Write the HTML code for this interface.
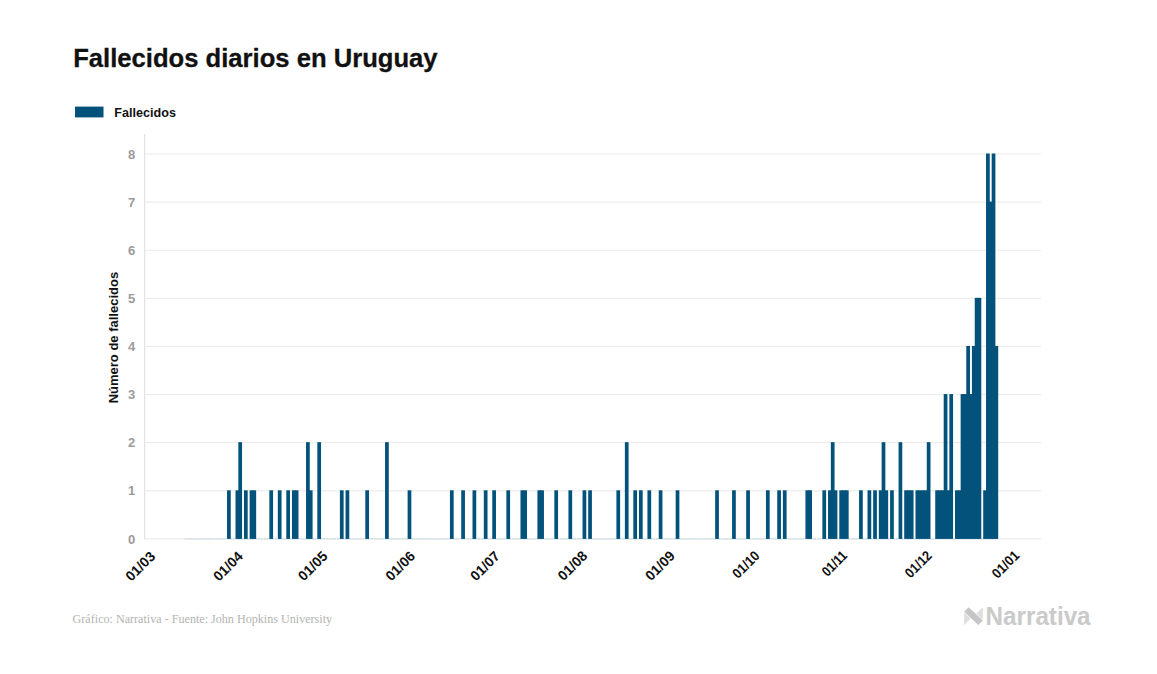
<!DOCTYPE html>
<html><head><meta charset="utf-8"><title>Fallecidos diarios en Uruguay</title>
<style>
html,body{margin:0;padding:0;background:#fff;}
body{width:1157px;height:674px;overflow:hidden;font-family:"Liberation Sans",sans-serif;}
svg{display:block;font-family:"Liberation Sans",sans-serif;}
</style></head><body>
<svg width="1157" height="674" viewBox="0 0 1157 674">
<rect width="1157" height="674" fill="#ffffff"/>
<line x1="145" x2="1041" y1="538.90" y2="538.90" stroke="#ededed" stroke-width="1.2"/>
<line x1="145" x2="1041" y1="490.79" y2="490.79" stroke="#ededed" stroke-width="1.2"/>
<line x1="145" x2="1041" y1="442.68" y2="442.68" stroke="#ededed" stroke-width="1.2"/>
<line x1="145" x2="1041" y1="394.57" y2="394.57" stroke="#ededed" stroke-width="1.2"/>
<line x1="145" x2="1041" y1="346.46" y2="346.46" stroke="#ededed" stroke-width="1.2"/>
<line x1="145" x2="1041" y1="298.35" y2="298.35" stroke="#ededed" stroke-width="1.2"/>
<line x1="145" x2="1041" y1="250.24" y2="250.24" stroke="#ededed" stroke-width="1.2"/>
<line x1="145" x2="1041" y1="202.13" y2="202.13" stroke="#ededed" stroke-width="1.2"/>
<line x1="145" x2="1041" y1="154.02" y2="154.02" stroke="#ededed" stroke-width="1.2"/>
<line x1="144.7" x2="144.7" y1="134" y2="539.50" stroke="#e4e4e4" stroke-width="1.3"/>
<line x1="184.72" x2="998.21" y1="538.90" y2="538.90" stroke="#bfd2dd" stroke-width="1" stroke-dasharray="2.05 0.7715"/>
<rect x="227.04" y="490.29" width="3.72" height="48.61" fill="#03527b"/>
<rect x="235.51" y="490.29" width="3.72" height="48.61" fill="#03527b"/>
<rect x="238.33" y="442.18" width="3.72" height="96.72" fill="#03527b"/>
<rect x="243.97" y="490.29" width="3.72" height="48.61" fill="#03527b"/>
<rect x="249.61" y="490.29" width="3.72" height="48.61" fill="#03527b"/>
<rect x="252.44" y="490.29" width="3.72" height="48.61" fill="#03527b"/>
<rect x="269.36" y="490.29" width="3.72" height="48.61" fill="#03527b"/>
<rect x="277.83" y="490.29" width="3.72" height="48.61" fill="#03527b"/>
<rect x="286.29" y="490.29" width="3.72" height="48.61" fill="#03527b"/>
<rect x="291.94" y="490.29" width="3.72" height="48.61" fill="#03527b"/>
<rect x="294.76" y="490.29" width="3.72" height="48.61" fill="#03527b"/>
<rect x="306.04" y="442.18" width="3.72" height="96.72" fill="#03527b"/>
<rect x="308.87" y="490.29" width="3.72" height="48.61" fill="#03527b"/>
<rect x="317.33" y="442.18" width="3.72" height="96.72" fill="#03527b"/>
<rect x="339.90" y="490.29" width="3.72" height="48.61" fill="#03527b"/>
<rect x="345.54" y="490.29" width="3.72" height="48.61" fill="#03527b"/>
<rect x="365.30" y="490.29" width="3.72" height="48.61" fill="#03527b"/>
<rect x="385.05" y="442.18" width="3.72" height="96.72" fill="#03527b"/>
<rect x="407.62" y="490.29" width="3.72" height="48.61" fill="#03527b"/>
<rect x="449.94" y="490.29" width="3.72" height="48.61" fill="#03527b"/>
<rect x="461.23" y="490.29" width="3.72" height="48.61" fill="#03527b"/>
<rect x="472.51" y="490.29" width="3.72" height="48.61" fill="#03527b"/>
<rect x="483.80" y="490.29" width="3.72" height="48.61" fill="#03527b"/>
<rect x="492.26" y="490.29" width="3.72" height="48.61" fill="#03527b"/>
<rect x="506.37" y="490.29" width="3.72" height="48.61" fill="#03527b"/>
<rect x="520.48" y="490.29" width="3.72" height="48.61" fill="#03527b"/>
<rect x="523.30" y="490.29" width="3.72" height="48.61" fill="#03527b"/>
<rect x="537.41" y="490.29" width="3.72" height="48.61" fill="#03527b"/>
<rect x="540.23" y="490.29" width="3.72" height="48.61" fill="#03527b"/>
<rect x="554.34" y="490.29" width="3.72" height="48.61" fill="#03527b"/>
<rect x="568.44" y="490.29" width="3.72" height="48.61" fill="#03527b"/>
<rect x="582.55" y="490.29" width="3.72" height="48.61" fill="#03527b"/>
<rect x="588.19" y="490.29" width="3.72" height="48.61" fill="#03527b"/>
<rect x="616.41" y="490.29" width="3.72" height="48.61" fill="#03527b"/>
<rect x="624.87" y="442.18" width="3.72" height="96.72" fill="#03527b"/>
<rect x="633.34" y="490.29" width="3.72" height="48.61" fill="#03527b"/>
<rect x="638.98" y="490.29" width="3.72" height="48.61" fill="#03527b"/>
<rect x="647.45" y="490.29" width="3.72" height="48.61" fill="#03527b"/>
<rect x="658.73" y="490.29" width="3.72" height="48.61" fill="#03527b"/>
<rect x="675.66" y="490.29" width="3.72" height="48.61" fill="#03527b"/>
<rect x="715.16" y="490.29" width="3.72" height="48.61" fill="#03527b"/>
<rect x="732.09" y="490.29" width="3.72" height="48.61" fill="#03527b"/>
<rect x="746.20" y="490.29" width="3.72" height="48.61" fill="#03527b"/>
<rect x="765.95" y="490.29" width="3.72" height="48.61" fill="#03527b"/>
<rect x="777.23" y="490.29" width="3.72" height="48.61" fill="#03527b"/>
<rect x="782.88" y="490.29" width="3.72" height="48.61" fill="#03527b"/>
<rect x="805.45" y="490.29" width="3.72" height="48.61" fill="#03527b"/>
<rect x="808.27" y="490.29" width="3.72" height="48.61" fill="#03527b"/>
<rect x="822.38" y="490.29" width="3.72" height="48.61" fill="#03527b"/>
<rect x="828.02" y="490.29" width="3.72" height="48.61" fill="#03527b"/>
<rect x="830.84" y="442.18" width="3.72" height="96.72" fill="#03527b"/>
<rect x="833.66" y="490.29" width="3.72" height="48.61" fill="#03527b"/>
<rect x="839.31" y="490.29" width="3.72" height="48.61" fill="#03527b"/>
<rect x="842.13" y="490.29" width="3.72" height="48.61" fill="#03527b"/>
<rect x="844.95" y="490.29" width="3.72" height="48.61" fill="#03527b"/>
<rect x="859.06" y="490.29" width="3.72" height="48.61" fill="#03527b"/>
<rect x="867.52" y="490.29" width="3.72" height="48.61" fill="#03527b"/>
<rect x="873.17" y="490.29" width="3.72" height="48.61" fill="#03527b"/>
<rect x="878.81" y="490.29" width="3.72" height="48.61" fill="#03527b"/>
<rect x="881.63" y="442.18" width="3.72" height="96.72" fill="#03527b"/>
<rect x="884.45" y="490.29" width="3.72" height="48.61" fill="#03527b"/>
<rect x="890.09" y="490.29" width="3.72" height="48.61" fill="#03527b"/>
<rect x="898.56" y="442.18" width="3.72" height="96.72" fill="#03527b"/>
<rect x="904.20" y="490.29" width="3.72" height="48.61" fill="#03527b"/>
<rect x="907.02" y="490.29" width="3.72" height="48.61" fill="#03527b"/>
<rect x="909.84" y="490.29" width="3.72" height="48.61" fill="#03527b"/>
<rect x="915.49" y="490.29" width="3.72" height="48.61" fill="#03527b"/>
<rect x="918.31" y="490.29" width="3.72" height="48.61" fill="#03527b"/>
<rect x="921.13" y="490.29" width="3.72" height="48.61" fill="#03527b"/>
<rect x="923.95" y="490.29" width="3.72" height="48.61" fill="#03527b"/>
<rect x="926.77" y="442.18" width="3.72" height="96.72" fill="#03527b"/>
<rect x="935.24" y="490.29" width="3.72" height="48.61" fill="#03527b"/>
<rect x="938.06" y="490.29" width="3.72" height="48.61" fill="#03527b"/>
<rect x="940.88" y="490.29" width="3.72" height="48.61" fill="#03527b"/>
<rect x="943.70" y="394.07" width="3.72" height="144.83" fill="#03527b"/>
<rect x="946.52" y="490.29" width="3.72" height="48.61" fill="#03527b"/>
<rect x="949.35" y="394.07" width="3.72" height="144.83" fill="#03527b"/>
<rect x="954.99" y="490.29" width="3.72" height="48.61" fill="#03527b"/>
<rect x="957.81" y="490.29" width="3.72" height="48.61" fill="#03527b"/>
<rect x="960.63" y="394.07" width="3.72" height="144.83" fill="#03527b"/>
<rect x="963.45" y="394.07" width="3.72" height="144.83" fill="#03527b"/>
<rect x="966.27" y="345.96" width="3.72" height="192.94" fill="#03527b"/>
<rect x="969.10" y="394.07" width="3.72" height="144.83" fill="#03527b"/>
<rect x="971.92" y="345.96" width="3.72" height="192.94" fill="#03527b"/>
<rect x="974.74" y="297.85" width="3.72" height="241.05" fill="#03527b"/>
<rect x="977.56" y="297.85" width="3.72" height="241.05" fill="#03527b"/>
<rect x="983.20" y="490.29" width="3.72" height="48.61" fill="#03527b"/>
<rect x="986.03" y="153.52" width="3.72" height="385.38" fill="#03527b"/>
<rect x="988.85" y="201.63" width="3.72" height="337.27" fill="#03527b"/>
<rect x="991.67" y="153.52" width="3.72" height="385.38" fill="#03527b"/>
<rect x="994.49" y="345.96" width="3.72" height="192.94" fill="#03527b"/>
<text x="135.3" y="543.60" text-anchor="end" font-size="13" font-weight="700" fill="#9b9b9b">0</text>
<text x="135.3" y="495.49" text-anchor="end" font-size="13" font-weight="700" fill="#9b9b9b">1</text>
<text x="135.3" y="447.38" text-anchor="end" font-size="13" font-weight="700" fill="#9b9b9b">2</text>
<text x="135.3" y="399.27" text-anchor="end" font-size="13" font-weight="700" fill="#9b9b9b">3</text>
<text x="135.3" y="351.16" text-anchor="end" font-size="13" font-weight="700" fill="#9b9b9b">4</text>
<text x="135.3" y="303.05" text-anchor="end" font-size="13" font-weight="700" fill="#9b9b9b">5</text>
<text x="135.3" y="254.94" text-anchor="end" font-size="13" font-weight="700" fill="#9b9b9b">6</text>
<text x="135.3" y="206.83" text-anchor="end" font-size="13" font-weight="700" fill="#9b9b9b">7</text>
<text x="135.3" y="158.72" text-anchor="end" font-size="13" font-weight="700" fill="#9b9b9b">8</text>
<text transform="translate(153.50,554.60) rotate(-45)" x="-35.03" dominant-baseline="middle" font-size="14" font-weight="700" fill="#111">01/03</text>
<text transform="translate(241.05,554.52) rotate(-45)" x="-35.03" dominant-baseline="middle" font-size="14" font-weight="700" fill="#111">01/04</text>
<text transform="translate(325.77,554.44) rotate(-45)" x="-35.03" dominant-baseline="middle" font-size="14" font-weight="700" fill="#111">01/05</text>
<text transform="translate(413.32,554.36) rotate(-45)" x="-35.03" dominant-baseline="middle" font-size="14" font-weight="700" fill="#111">01/06</text>
<text transform="translate(498.04,554.28) rotate(-45)" x="-35.03" dominant-baseline="middle" font-size="14" font-weight="700" fill="#111">01/07</text>
<text transform="translate(585.59,554.20) rotate(-45)" x="-35.03" dominant-baseline="middle" font-size="14" font-weight="700" fill="#111">01/08</text>
<text transform="translate(673.14,554.12) rotate(-45)" x="-35.03" dominant-baseline="middle" font-size="14" font-weight="700" fill="#111">01/09</text>
<text transform="translate(757.86,554.04) rotate(-45)" x="-31.80" dominant-baseline="middle" font-size="14" font-weight="700" fill="#111" textLength="31.8" lengthAdjust="spacingAndGlyphs">01/10</text>
<text transform="translate(845.41,553.96) rotate(-45)" x="-29.20" dominant-baseline="middle" font-size="14" font-weight="700" fill="#111" textLength="29.2" lengthAdjust="spacingAndGlyphs">01/11</text>
<text transform="translate(930.13,553.88) rotate(-45)" x="-31.40" dominant-baseline="middle" font-size="14" font-weight="700" fill="#111" textLength="31.4" lengthAdjust="spacingAndGlyphs">01/12</text>
<text transform="translate(1017.68,553.80) rotate(-45)" x="-32.40" dominant-baseline="middle" font-size="14" font-weight="700" fill="#111" textLength="32.4" lengthAdjust="spacingAndGlyphs">01/01</text>
<text transform="translate(118,337.6) rotate(-90)" text-anchor="middle" font-size="13" font-weight="700" fill="#111">Número de fallecidos</text>
<rect x="75" y="106.6" width="28.5" height="10.8" fill="#03527b"/>
<text x="114.3" y="116.5" font-size="13.3" font-weight="700" fill="#111" textLength="61.6" lengthAdjust="spacingAndGlyphs">Fallecidos</text>
<text x="73.2" y="67.1" font-size="26" font-weight="700" fill="#111" stroke="#111" stroke-width="0.3" textLength="364.4" lengthAdjust="spacingAndGlyphs">Fallecidos diarios en Uruguay</text>
<text x="72.6" y="623" font-family="Liberation Serif, serif" font-size="13" fill="#b3b3b3" textLength="259.5" lengthAdjust="spacingAndGlyphs">Gráfico: Narrativa - Fuente: John Hopkins University</text>
<g><polygon points="964.1,611.8 968.6,607.2 982.9,620.4 978.4,625.0" fill="#c6c6c6"/><polygon points="964.1,612.4 964.1,625.0 970.6,618.6" fill="#dedede"/><polygon points="982.9,607.2 982.9,619.8 976.4,613.6" fill="#dedede"/></g>
<text x="985.6" y="625" font-size="25.8" font-weight="700" fill="#cacaca" textLength="105" lengthAdjust="spacingAndGlyphs">Narrativa</text>
</svg>
</body></html>
